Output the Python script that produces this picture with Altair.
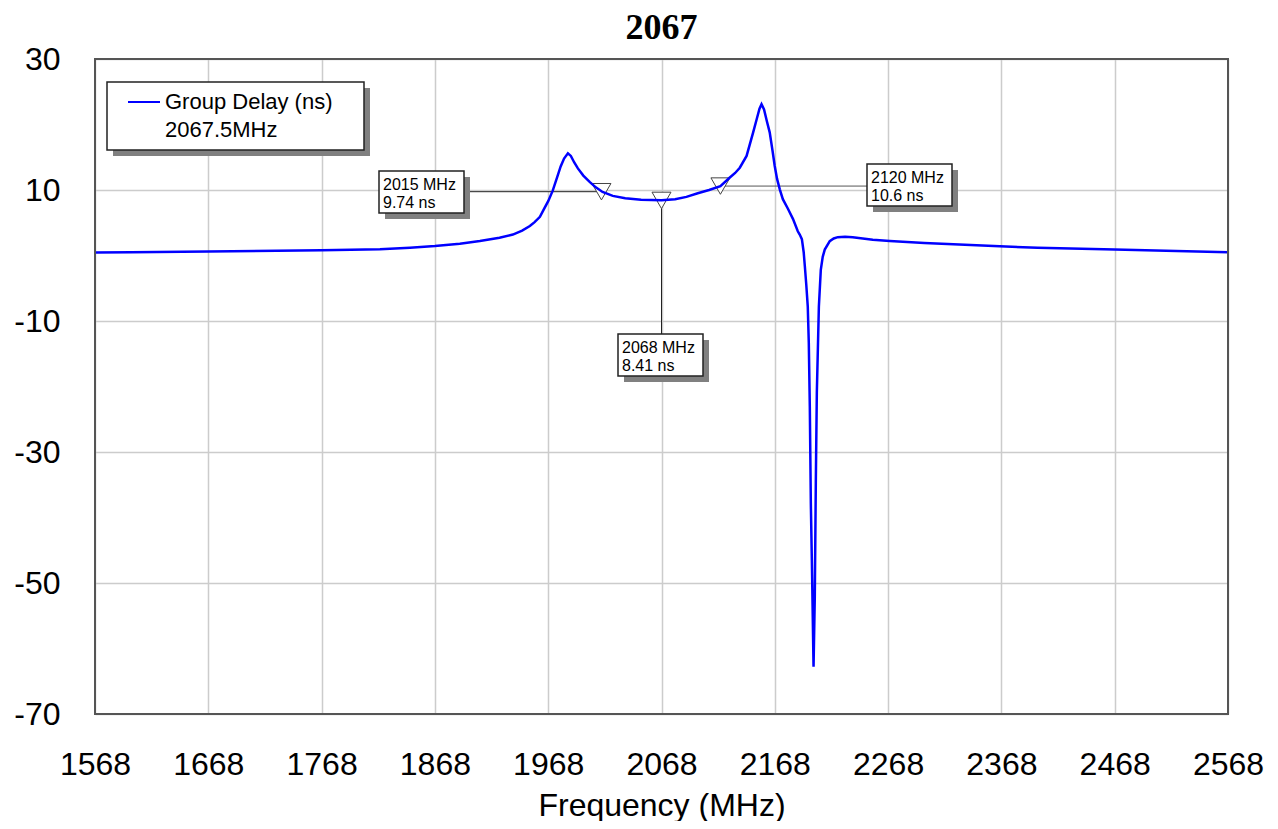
import altair as alt
import pandas as pd

# ---------------- data ----------------
TITLE = "2067"
X_TITLE = "Frequency (MHz)"

freq = [1568, 1600, 1668, 1768, 1819.5, 1846, 1868, 1890, 1907.7, 1925, 1936.8, 1945,
        1951.8, 1956, 1960.7, 1964, 1968, 1972, 1976, 1979, 1982, 1985.4, 1988, 1991,
        1994.2, 1999, 2004.8, 2010, 2016, 2025, 2036, 2050, 2068, 2080, 2090, 2100,
        2110, 2120, 2128.3, 2133, 2137.1, 2143.1, 2148.9, 2152, 2154.5, 2156.3, 2158.5,
        2161, 2163.5, 2166, 2167.9, 2170, 2172.4, 2175.1, 2179.7, 2184, 2188.3, 2190,
        2191.9, 2193.5, 2194.5, 2195.8, 2197.1, 2198.0, 2198.9, 2199.8, 2200.7, 2201.5,
        2202.2, 2203.3, 2204.2, 2205.1, 2206.9, 2208.6, 2210.3, 2212.1, 2216.5, 2220,
        2223.6, 2230, 2236.8, 2254.5, 2269.5, 2300, 2366.5, 2400, 2468, 2568]
delay = [0.45, 0.5, 0.6, 0.8, 0.95, 1.2, 1.45, 1.8, 2.2, 2.7, 3.2, 3.8,
         4.5, 5.1, 5.9, 7.0, 8.3, 9.9, 12.0, 13.6, 14.8, 15.6, 15.2, 14.2,
         13.3, 12.2, 11.2, 10.4, 9.7, 9.1, 8.75, 8.5, 8.42, 8.6, 8.95, 9.5,
         10.0, 10.6, 11.9, 12.6, 13.4, 15.2, 18.8, 20.8, 22.4, 23.1, 22.3,
         20.5, 18.8, 16.0, 13.7, 11.7, 10.1, 8.6, 7.1, 5.6, 3.7, 3.2,
         2.5, 0.5, -1.6, -4.5, -7.8, -13.3, -23.1, -37.8, -46.5, -55.2,
         -62.8, -52.1, -34.7, -20.9, -7.8, -2.2, -0.2, 0.9, 2.2, 2.6,
         2.8, 2.85, 2.8, 2.4, 2.2, 1.9, 1.4, 1.2, 0.9, 0.5]

x_ticks = [1568, 1668, 1768, 1868, 1968, 2068, 2168, 2268, 2368, 2468, 2568]
y_ticks = [30, 10, -10, -30, -50, -70]

marker_freq = [2015, 2068, 2120]
marker_delay = [9.74, 8.41, 10.6]
marker_line1 = ["2015 MHz", "2068 MHz", "2120 MHz"]
marker_line2 = ["9.74 ns", "8.41 ns", "10.6 ns"]

legend_series = ["Group Delay (ns)"]
legend_note = ["2067.5MHz"]

# ---------------- layout (pixels, plot-area relative) ----------------
W, H = 1133, 655
PAD = {"left": 87, "top": 51, "right": 42, "bottom": 107}
BOX_X = [284, 523, 772]
BOX_Y = [112, 275, 105]
BOX_W, BOX_H, SHADOW = 85, 42, 6
LEG = dict(x=12, y=23, w=257, h=68)
FONT = "Liberation Sans"

curve_df = pd.DataFrame({"freq": freq, "delay": delay})
mk_df = pd.DataFrame({"freq": marker_freq, "delay": marker_delay,
                      "l1": marker_line1, "l2": marker_line2})

xs = alt.Scale(domain=[1568, 2568], nice=False, zero=False)
ys = alt.Scale(domain=[-70, 30], nice=False, zero=False)

xaxis = alt.Axis(values=x_ticks, title=X_TITLE, grid=True, ticks=False, domain=False,
                 labelFlush=False, labelOverlap=False, labelPadding=35, titlePadding=10,
                 labelExpr="'' + datum.value")
yaxis = alt.Axis(values=y_ticks, title=None, grid=True, ticks=False, domain=False,
                 labelPadding=35, labelOverlap=False, labelExpr="'' + datum.value")

X = alt.X("freq:Q", scale=xs, axis=xaxis)
Y = alt.Y("delay:Q", scale=ys, axis=yaxis)

layers = []

# leader lines
layers.append(alt.Chart(mk_df.iloc[[0]]).mark_rule(color="#222222", strokeWidth=1).encode(
    x=alt.X("freq:Q", scale=xs), x2=alt.value(BOX_X[0] + BOX_W), y=alt.Y("delay:Q", scale=ys)))
layers.append(alt.Chart(mk_df.iloc[[1]]).mark_rule(color="#222222", strokeWidth=1).encode(
    x=alt.X("freq:Q", scale=xs), y=alt.Y("delay:Q", scale=ys), y2=alt.value(BOX_Y[1])))
layers.append(alt.Chart(mk_df.iloc[[2]]).mark_rule(color="#555555", strokeWidth=1).encode(
    x=alt.X("freq:Q", scale=xs), x2=alt.value(BOX_X[2]), y=alt.Y("delay:Q", scale=ys)))

# marker triangles
layers.append(alt.Chart(mk_df).mark_point(shape="triangle-down", size=360, filled=True,
                                          fill="white", stroke="#444444", strokeWidth=1,
                                          opacity=1).encode(
    x=alt.X("freq:Q", scale=xs), y=alt.Y("delay:Q", scale=ys)))

# curve
layers.append(alt.Chart(curve_df).mark_line(color="#0000ff", strokeWidth=2.5, clip=True).encode(x=X, y=Y))

# marker label boxes
for i in range(len(marker_freq)):
    row = mk_df.iloc[[i]]
    bx, by = BOX_X[i], BOX_Y[i]
    layers.append(alt.Chart(row).mark_rect(fill="#808080").encode(
        x=alt.value(bx + SHADOW), x2=alt.value(bx + BOX_W + SHADOW),
        y=alt.value(by + SHADOW), y2=alt.value(by + BOX_H + SHADOW)))
    layers.append(alt.Chart(row).mark_rect(fill="white", stroke="#222222", strokeWidth=1.5).encode(
        x=alt.value(bx), x2=alt.value(bx + BOX_W), y=alt.value(by), y2=alt.value(by + BOX_H)))
    layers.append(alt.Chart(row).mark_text(align="left", baseline="alphabetic", font=FONT,
                                           fontSize=16, color="black").encode(
        x=alt.value(bx + 4), y=alt.value(by + 19), text="l1:N"))
    layers.append(alt.Chart(row).mark_text(align="left", baseline="alphabetic", font=FONT,
                                           fontSize=16, color="black").encode(
        x=alt.value(bx + 4), y=alt.value(by + 37), text="l2:N"))

# legend
leg_df = pd.DataFrame({"series": legend_series, "note": legend_note})
layers.append(alt.Chart(leg_df).mark_rect(fill="#808080").encode(
    x=alt.value(LEG["x"] + SHADOW), x2=alt.value(LEG["x"] + LEG["w"] + SHADOW),
    y=alt.value(LEG["y"] + SHADOW), y2=alt.value(LEG["y"] + LEG["h"] + SHADOW)))
layers.append(alt.Chart(leg_df).mark_rect(fill="white", stroke="#222222", strokeWidth=1.5).encode(
    x=alt.value(LEG["x"]), x2=alt.value(LEG["x"] + LEG["w"]),
    y=alt.value(LEG["y"]), y2=alt.value(LEG["y"] + LEG["h"])))
layers.append(alt.Chart(leg_df).mark_rule(color="#0000ff", strokeWidth=2).encode(
    x=alt.value(LEG["x"] + 21), x2=alt.value(LEG["x"] + 53), y=alt.value(LEG["y"] + 20)))
layers.append(alt.Chart(leg_df).mark_text(align="left", baseline="alphabetic", font=FONT,
                                          fontSize=22, color="black").encode(
    x=alt.value(LEG["x"] + 58), y=alt.value(LEG["y"] + 27), text="series:N"))
layers.append(alt.Chart(leg_df).mark_text(align="left", baseline="alphabetic", font=FONT,
                                          fontSize=22, color="black").encode(
    x=alt.value(LEG["x"] + 58), y=alt.value(LEG["y"] + 55), text="note:N"))

# frame on top
layers.append(alt.Chart(leg_df).mark_rect(filled=False, stroke="#555555", strokeWidth=2).encode(
    x=alt.value(0), x2=alt.value(W), y=alt.value(0), y2=alt.value(H)))

chart = alt.layer(*layers).properties(
    width=W, height=H,
    padding=PAD,
    autosize=alt.AutoSizeParams(type="none"),
    title=alt.TitleParams(TITLE, font="Liberation Serif", fontSize=36, fontWeight="bold",
                          color="black", anchor="middle", frame="group", offset=0, dy=4),
).configure_view(stroke=None).configure_axis(
    gridColor="#cccccc", gridWidth=1.5,
    labelFont=FONT, labelFontSize=32, labelColor="black",
    titleFont=FONT, titleFontSize=32, titleFontWeight="normal", titleColor="black",
)

chart.save("out.html", embed_options={"renderer": "svg", "actions": False})
